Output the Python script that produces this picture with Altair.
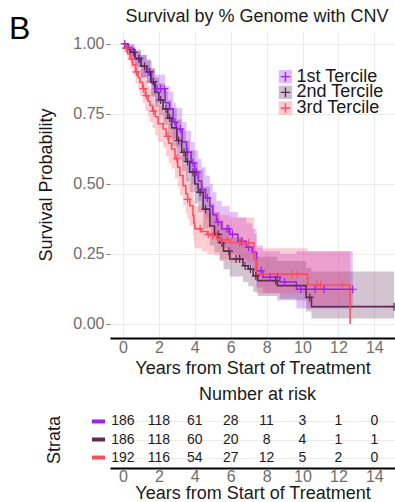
import altair as alt
import pandas as pd

groups = ["1st Tercile", "2nd Tercile", "3rd Tercile"]
line_colors = ["#A020F0", "#5E2A55", "#FF4D5E"]

# ---- 1st tercile (purple)
t1 = [0, 0.3, 0.67, 1.0, 1.32, 1.6, 1.8, 2.35, 2.6, 2.8, 2.97, 3.3, 3.54, 3.8, 4.0, 4.2, 4.38, 4.6,
      4.84, 5.0, 5.21, 5.5, 5.95, 6.4, 6.88, 7.2, 7.44, 7.8, 8.74, 9.66]
s1 = [1.0, 0.98, 0.95, 0.92, 0.90, 0.86, 0.84, 0.79, 0.768, 0.72, 0.696, 0.65, 0.613, 0.575, 0.542, 0.51,
      0.48, 0.45, 0.42, 0.39, 0.363, 0.34, 0.32, 0.295, 0.274, 0.256, 0.19, 0.167, 0.15, 0.124]
lo1 = [1.0, 0.96, 0.92, 0.88, 0.86, 0.81, 0.79, 0.73, 0.71, 0.66, 0.63, 0.58, 0.54, 0.50, 0.47, 0.44,
       0.41, 0.38, 0.35, 0.32, 0.29, 0.27, 0.25, 0.23, 0.21, 0.19, 0.13, 0.11, 0.09, 0.055]
hi1 = [1.0, 1.0, 0.98, 0.96, 0.94, 0.91, 0.89, 0.85, 0.83, 0.79, 0.77, 0.72, 0.69, 0.65, 0.62, 0.59,
       0.56, 0.53, 0.50, 0.47, 0.44, 0.42, 0.40, 0.38, 0.36, 0.34, 0.28, 0.26, 0.25, 0.26]
end1 = 12.8
cens1 = [0.1, 0.5, 0.9, 1.4, 1.9, 2.1, 2.3, 2.9, 3.2, 3.6, 3.9, 4.1, 4.4, 4.7, 5.3, 5.8, 5.9, 6.1,
         6.6, 7.0, 7.7, 8.2, 8.6, 9.0, 9.9, 10.7, 11.2, 12.8]

# ---- 2nd tercile (dark plum)
t2 = [0, 0.2, 0.4, 0.67, 1.0, 1.32, 1.55, 1.78, 2.0, 2.24, 2.5, 2.71, 3.0, 3.27, 3.5, 3.72, 4.0, 4.19,
      4.47, 4.84, 5.1, 5.38, 5.6, 5.95, 6.69, 6.98, 7.25, 7.5, 8.6, 10.2, 10.5]
s2 = [1.0, 0.985, 0.97, 0.946, 0.92, 0.90, 0.865, 0.827, 0.80, 0.768, 0.735, 0.70, 0.655, 0.613, 0.58,
      0.542, 0.50, 0.47, 0.41, 0.35, 0.32, 0.29, 0.26, 0.232, 0.208, 0.196, 0.172, 0.155, 0.137, 0.095, 0.062]
lo2 = [1.0, 0.97, 0.95, 0.915, 0.88, 0.86, 0.815, 0.775, 0.745, 0.71, 0.67, 0.635, 0.59, 0.545, 0.51,
       0.47, 0.43, 0.40, 0.34, 0.28, 0.255, 0.225, 0.195, 0.17, 0.15, 0.135, 0.115, 0.10, 0.085, 0.045, 0.02]
hi2 = [1.0, 1.0, 0.99, 0.975, 0.96, 0.945, 0.915, 0.88, 0.86, 0.83, 0.80, 0.77, 0.73, 0.69, 0.655,
       0.62, 0.58, 0.55, 0.49, 0.43, 0.40, 0.37, 0.34, 0.31, 0.29, 0.28, 0.255, 0.24, 0.225, 0.20, 0.187]
end2 = 15.1
cens2 = [0.2, 0.6, 0.9, 1.2, 1.5, 1.7, 2.1, 2.4, 2.6, 3.1, 3.4, 3.6, 3.9, 4.3, 4.6, 5.3, 5.5, 5.9,
         6.3, 6.5, 6.8, 7.1, 7.4, 8.5, 10.4, 15.1]

# ---- 3rd tercile (red)
t3 = [0, 0.1, 0.25, 0.4, 0.55, 0.7, 0.85, 0.95, 1.1, 1.25, 1.4, 1.5, 1.65, 1.8, 1.96, 2.24, 2.4, 2.55,
      2.71, 2.9, 3.05, 3.17, 3.35, 3.5, 3.6, 3.72, 3.9, 3.95, 4.0, 4.38, 4.7, 5.0, 5.4, 5.95, 7.3,
      7.45, 10.28, 12.65]
s3 = [1.0, 0.985, 0.965, 0.946, 0.925, 0.90, 0.88, 0.863, 0.84, 0.815, 0.795, 0.78, 0.76, 0.74, 0.715,
      0.696, 0.67, 0.645, 0.625, 0.59, 0.56, 0.53, 0.494, 0.465, 0.445, 0.422, 0.387, 0.36, 0.34, 0.33,
      0.32, 0.315, 0.30, 0.29, 0.23, 0.178, 0.139, 0.0]
lo3 = [1.0, 0.97, 0.945, 0.915, 0.89, 0.86, 0.835, 0.815, 0.79, 0.76, 0.74, 0.72, 0.70, 0.675, 0.65,
       0.63, 0.60, 0.575, 0.555, 0.52, 0.49, 0.46, 0.425, 0.395, 0.375, 0.35, 0.315, 0.29, 0.27, 0.26,
       0.25, 0.245, 0.23, 0.22, 0.16, 0.11, 0.07, 0.0]
hi3 = [1.0, 1.0, 0.99, 0.975, 0.96, 0.94, 0.925, 0.91, 0.89, 0.87, 0.85, 0.84, 0.82, 0.80, 0.78,
       0.76, 0.74, 0.715, 0.695, 0.66, 0.63, 0.60, 0.57, 0.54, 0.52, 0.50, 0.465, 0.44, 0.42, 0.41,
       0.40, 0.40, 0.39, 0.38, 0.32, 0.27, 0.26, 0.0]
end3 = 12.65
cens3 = [0.2, 0.5, 0.75, 1.15, 1.3, 1.7, 2.5, 3.0, 3.6, 4.3, 4.75, 5.0, 5.2, 5.5, 5.8, 6.5, 6.7, 7.0,
         9.4, 9.7, 10.8, 11.0, 12.2]

# ---- number at risk
risk_times = [0, 2, 4, 6, 8, 10, 12, 14]
risk1 = [186, 118, 61, 28, 11, 3, 1, 0]
risk2 = [186, 118, 60, 20, 8, 4, 1, 1]
risk3 = [192, 116, 54, 27, 12, 5, 2, 0]

series = [(t1, s1, lo1, hi1, end1, cens1), (t2, s2, lo2, hi2, end2, cens2), (t3, s3, lo3, hi3, end3, cens3)]


def step_at(ts, ss, t):
    idx = 0
    for i, tt in enumerate(ts):
        if tt <= t:
            idx = i
    return ss[idx]


band_rows, line_rows, cens_rows = [], [], []
for g, (ts, ss, los, his, end, cs) in zip(groups, series):
    for k in range(len(ts)):
        line_rows.append({"group": g, "t": ts[k], "s": ss[k], "o": len(line_rows)})
        if ss[k] > 0:
            band_rows.append({"group": g, "t": ts[k], "lo": los[k], "hi": his[k]})
    if ss[-1] > 0:
        line_rows.append({"group": g, "t": end, "s": ss[-1], "o": len(line_rows)})
        band_rows.append({"group": g, "t": end, "lo": los[-1], "hi": his[-1]})
    else:
        lastb = [r for r in band_rows if r["group"] == g][-1]
        band_rows.append({"group": g, "t": end, "lo": lastb["lo"], "hi": lastb["hi"]})
    for c in cs:
        cens_rows.append({"group": g, "t": c, "s": step_at(ts, ss, c)})

band_df = pd.DataFrame(band_rows)
line_df = pd.DataFrame(line_rows)
cens_df = pd.DataFrame(cens_rows)

risk_rows = []
for g, r in zip(groups, [risk1, risk2, risk3]):
    for t, n in zip(risk_times, r):
        risk_rows.append({"group": g, "t": t, "n": str(n)})
risk_df = pd.DataFrame(risk_rows)

# legend placed inside the panel (data-space anchor computed here)
leg_x, leg_y0, leg_dy = 9.05, 0.883, 0.056
leg_df = pd.DataFrame({"group": groups, "t": [leg_x] * 3,
                       "s": [leg_y0 - i * leg_dy for i in range(3)]})

FONT = "Liberation Sans"
PLUS = "M-1,0L1,0M0,-1L0,1"
xdom = [-0.72, 15.15]
xs = alt.Scale(domain=xdom, nice=False, zero=False)
ys = alt.Scale(domain=[-0.05, 1.046], nice=False, zero=False)
color = alt.Color("group:N", scale=alt.Scale(domain=groups, range=line_colors), legend=None)

xaxis = alt.Axis(values=risk_times, title="Years from Start of Treatment", grid=True, gridColor="#EBEBEB",
                 domainColor="#000000", domainWidth=2, ticks=False, labelPadding=1, labelFontSize=16,
                 labelColor="#6E6E6E", titleFontSize=18, titleColor="#1A1A1A", titleFontWeight="normal",
                 titlePadding=4)
yaxis = alt.Axis(values=[0, 0.25, 0.5, 0.75, 1.0], format=".2f", title="Survival Probability", grid=True,
                 gridColor="#EBEBEB", domain=False, tickColor="#7F7F7F", tickSize=4, labelPadding=2,
                 labelFontSize=16, labelColor="#6E6E6E", titleFontSize=18, titleColor="#1A1A1A",
                 titleFontWeight="normal", titlePadding=17)

band = alt.Chart(band_df).mark_area(interpolate="step-after", fillOpacity=0.28, clip=True).encode(
    x=alt.X("t:Q", scale=xs, axis=xaxis),
    y=alt.Y("lo:Q", scale=ys, axis=yaxis),
    y2="hi:Q",
    fill=color,
)
lines = alt.Chart(line_df).mark_line(interpolate="step-after", strokeWidth=1.6, clip=True).encode(
    x="t:Q", y="s:Q", color=color, order="o:Q")
cens = alt.Chart(cens_df).mark_point(shape=PLUS, size=64, filled=False, strokeWidth=1.2, opacity=1,
                                     clip=True).encode(x="t:Q", y="s:Q", color=color)
leg_sq = alt.Chart(leg_df).mark_square(size=180, opacity=0.3).encode(x="t:Q", y="s:Q", color=color)
leg_pl = alt.Chart(leg_df).mark_point(shape=PLUS, size=90, filled=False, strokeWidth=1.4, opacity=1).encode(
    x="t:Q", y="s:Q", color=color)
leg_tx = alt.Chart(leg_df).mark_text(align="left", baseline="middle", dx=11, fontSize=18, font=FONT,
                                     color="#1A1A1A").encode(x="t:Q", y="s:Q", text="group:N")
one = pd.DataFrame({"k": [0]})
panel_b = alt.Chart(one).mark_text(
    text="B", fontSize=32, font=FONT, align="left", baseline="alphabetic", color="#000000").encode(
    x=alt.value(-101), y=alt.value(8))
main_title = alt.Chart(one).mark_text(
    text="Survival by % Genome with CNV", fontSize=18, font=FONT, align="center", baseline="alphabetic",
    color="#1A1A1A").encode(x=alt.value(147), y=alt.value(-9))

top = alt.layer(band, lines, cens, leg_sq, leg_pl, leg_tx, panel_b, main_title).properties(
    width=285, height=307)

rxaxis = alt.Axis(values=risk_times, title="Years from Start of Treatment", grid=True, gridColor="#F0F0F0",
                  domainColor="#000000", domainWidth=2, ticks=False, labelPadding=0, labelFontSize=16,
                  labelColor="#6E6E6E", titleFontSize=18, titleColor="#1A1A1A", titleFontWeight="normal",
                  titlePadding=0)
ryscale = alt.Scale(domain=groups, type="point", padding=0.58)
risk_text = alt.Chart(risk_df).mark_text(fontSize=14, font=FONT, color="#1A1A1A").encode(
    x=alt.X("t:Q", scale=xs, axis=rxaxis),
    y=alt.Y("group:N", scale=ryscale,
            axis=alt.Axis(title="Strata", labels=False, ticks=False, domain=False, grid=True,
                          gridColor="#EBEBEB", titleFontSize=18, titleColor="#1A1A1A",
                          titleFontWeight="normal", titlePadding=47)),
    text="n:N",
)
risk_bar = alt.Chart(risk_df.drop_duplicates("group")).mark_rule(strokeWidth=4).encode(
    x=alt.value(-18), x2=alt.value(-5), y=alt.Y("group:N", scale=ryscale), color=color)

bottom = alt.layer(risk_text, risk_bar).properties(
    width=285, height=57,
    title=alt.TitleParams("Number at risk", fontSize=18, font=FONT, fontWeight="normal", color="#1A1A1A",
                          anchor="middle", frame="group", offset=7, dx=5))

chart = alt.vconcat(top, bottom, spacing=9).properties(
    padding={"left": 9, "top": 8, "right": 0, "bottom": 0}, background="white"
).configure_view(stroke=None).configure_axis(labelFont=FONT, titleFont=FONT).configure_title(font=FONT)

chart.save("out.html", embed_options={"renderer": "svg", "actions": False})
